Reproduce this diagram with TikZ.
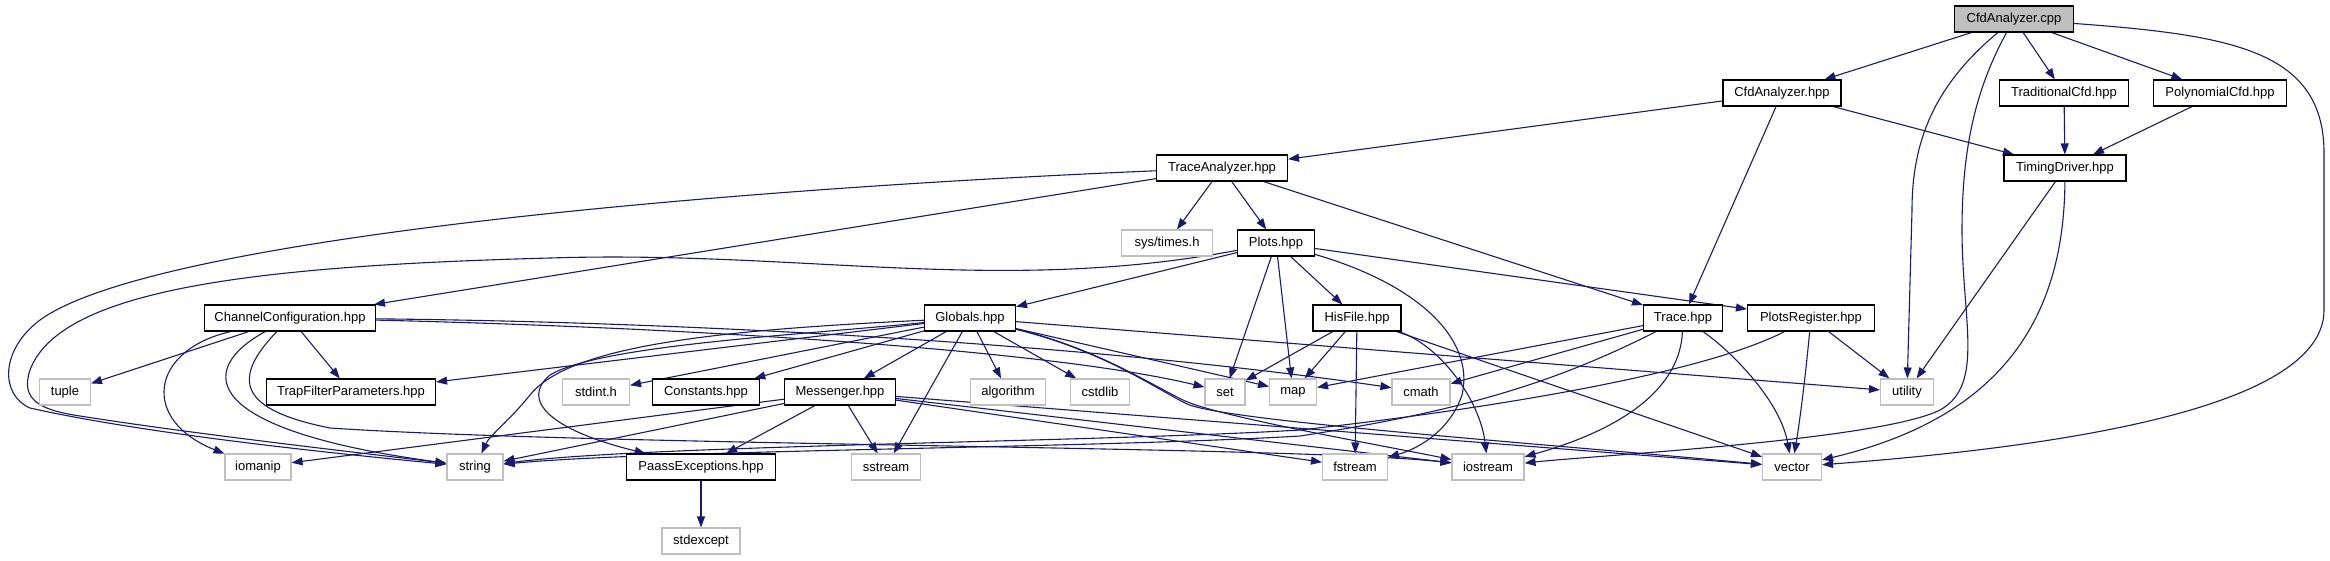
\documentclass[tikz,border=0pt]{standalone}
\usepackage{fontspec}
\setmainfont{Liberation Sans}
\usetikzlibrary{arrows.meta}
\definecolor{edgec}{HTML}{191970}
\definecolor{extc}{HTML}{BFBFBF}
\definecolor{cppfill}{HTML}{BFBFBF}
\pgfdeclarelayer{bg}
\pgfsetlayers{bg,main}
\tikzset{
  docbox/.style={draw=black, line width=1.1pt, fill=white, minimum height=26pt, inner sep=0pt, font=\fontsize{13}{15}\selectfont},
  extbox/.style={draw=extc, line width=1.1pt, fill=white, minimum height=26pt, inner sep=0pt, font=\fontsize{13}{15}\selectfont},
  cppbox/.style={docbox, fill=cppfill},
  dep/.style={draw=edgec, line width=1.1pt, -{Triangle[length=11pt,width=8pt]}}
}
\begin{document}
\begin{tikzpicture}[x=1pt,y=-1pt]
\useasboundingbox (0,0) rectangle (2330,560);
% row 1
\node[cppbox, minimum width=119] (cpp) at (2014,19) {CfdAnalyzer.cpp};
% row 2
\node[docbox, minimum width=118] (cah) at (1782,93) {CfdAnalyzer.hpp};
\node[docbox, minimum width=129] (trad) at (2064,93) {TraditionalCfd.hpp};
\node[docbox, minimum width=133] (poly) at (2220,93) {PolynomialCfd.hpp};
% row 3
\node[docbox, minimum width=131] (tra) at (1222,168) {TraceAnalyzer.hpp};
\node[docbox, minimum width=122] (tim) at (2065,168) {TimingDriver.hpp};
% row 4
\node[extbox, minimum width=91] (sys) at (1167,243) {sys/times.h};
\node[docbox, minimum width=77] (plots) at (1276,243) {Plots.hpp};
% row 5
\node[docbox, minimum width=171] (chan) at (290,318) {ChannelConfiguration.hpp};
\node[docbox, minimum width=91] (glob) at (970,318) {Globals.hpp};
\node[docbox, minimum width=88] (his) at (1357,318) {HisFile.hpp};
\node[docbox, minimum width=79] (trace) at (1683,318) {Trace.hpp};
\node[docbox, minimum width=127] (preg) at (1811,318) {PlotsRegister.hpp};
% row 6
\node[extbox, minimum width=51] (tuple) at (65,392) {tuple};
\node[docbox, minimum width=169] (trap) at (351,392) {TrapFilterParameters.hpp};
\node[extbox, minimum width=67] (stdint) at (596,392) {stdint.h};
\node[docbox, minimum width=107] (const) at (706,392) {Constants.hpp};
\node[docbox, minimum width=111] (mess) at (840,392) {Messenger.hpp};
\node[extbox, minimum width=75] (algo) at (1008,392) {algorithm};
\node[extbox, minimum width=59] (cstd) at (1100,392) {cstdlib};
\node[extbox, minimum width=40] (set) at (1225,392) {set};
\node[extbox, minimum width=47] (map) at (1293,392) {map};
\node[extbox, minimum width=58] (cmath) at (1421,392) {cmath};
\node[extbox, minimum width=53] (util) at (1907,392) {utility};
% row 7
\node[extbox, minimum width=66] (ioman) at (258,467) {iomanip};
\node[extbox, minimum width=56] (string) at (475,467) {string};
\node[docbox, minimum width=149] (paass) at (701,467) {PaassExceptions.hpp};
\node[extbox, minimum width=69] (sstr) at (886,467) {sstream};
\node[extbox, minimum width=65] (fstr) at (1355,467) {fstream};
\node[extbox, minimum width=72] (iostr) at (1488,467) {iostream};
\node[extbox, minimum width=59] (vector) at (1792,467) {vector};
% row 8
\node[extbox, minimum width=78] (stdexc) at (701,541) {stdexcept};

\begin{pgfonlayer}{bg}
% CfdAnalyzer.cpp
\draw[dep] (cpp) -- (cah);
\draw[dep] (cpp) -- (trad);
\draw[dep] (cpp) -- (poly);
\draw[dep] (cpp) .. controls (1935,85) and (1912,140) .. (1912,210) -- (util);
\draw[dep] (cpp) .. controls (1975,90) and (1962,150) .. (1962,230) .. controls (1962,320) and (1985,385) .. (1940,410) .. controls (1880,440) and (1600,455) .. (iostr);
\draw[dep] (cpp) .. controls (2230,35) and (2322,50) .. (2324,150) -- (2324,310) .. controls (2324,390) and (2150,440) .. (vector);
% CfdAnalyzer.hpp
\draw[dep] (cah) -- (tra);
\draw[dep] (cah) -- (tim);
\draw[dep] (cah) -- (trace);
\draw[dep] (trad) -- (tim);
\draw[dep] (poly) -- (tim);
% TimingDriver
\draw[dep] (tim) -- (util);
\draw[dep] (tim) .. controls (2064,330) and (1990,420) .. (vector);
% TraceAnalyzer
\draw[dep] (tra) -- (sys);
\draw[dep] (tra) -- (plots);
\draw[dep] (tra) -- (trace);
\draw[dep] (tra) -- (chan);
\draw[dep] (tra) .. controls (700,190) and (150,240) .. (40,320) .. controls (0,350) and (0,395) .. (30,408) .. controls (150,435) and (350,455) .. (string);
% Plots
\draw[dep] (plots) .. controls (1000,295) and (800,250) .. (550,258) .. controls (250,266) and (60,290) .. (30,370) .. controls (20,400) and (40,410) .. (80,416) .. controls (200,435) and (380,455) .. (string);
\draw[dep] (plots) -- (glob);
\draw[dep] (plots) -- (set);
\draw[dep] (plots) -- (map);
\draw[dep] (plots) -- (his);
\draw[dep] (plots) .. controls (1420,285) and (1475,340) .. (1462,395) .. controls (1450,430) and (1420,448) .. (fstr);
\draw[dep] (plots) -- (preg);
% ChannelConfiguration
\draw[dep] (chan) -- (tuple);
\draw[dep] (chan) -- (trap);
\draw[dep] (chan) .. controls (150,350) and (140,420) .. (ioman);
\draw[dep] (chan) .. controls (195,370) and (200,430) .. (string);
\draw[dep] (chan) .. controls (230,380) and (240,410) .. (330,428) .. controls (600,446) and (1300,446) .. (iostr);
\draw[dep] (chan) .. controls (700,328) and (1050,350) .. (set);
\draw[dep] (chan) .. controls (700,322) and (1100,345) .. (cmath);
% Globals
\draw[dep] (glob) -- (stdint);
\draw[dep] (glob) -- (const);
\draw[dep] (glob) -- (mess);
\draw[dep] (glob) -- (sstr);
\draw[dep] (glob) -- (algo);
\draw[dep] (glob) -- (cstd);
\draw[dep] (glob) -- (map);
\draw[dep] (glob) -- (util);
\draw[dep] (glob) -- (trap);
\draw[dep] (glob) .. controls (720,330) and (570,345) .. (530,395) .. controls (510,420) and (490,435) .. (string);
\draw[dep] (glob) .. controls (800,335) and (600,345) .. (550,375) .. controls (520,400) and (550,430) .. (paass);
\draw[dep] (glob) .. controls (1100,350) and (1150,385) .. (1185,403) .. controls (1215,420) and (1500,440) .. (vector);
\draw[dep] (glob) .. controls (1095,348) and (1148,383) .. (1183,400) .. controls (1215,416) and (1380,445) .. (iostr);
% Messenger
\draw[dep] (mess) -- (ioman);
\draw[dep] (mess) -- (string);
\draw[dep] (mess) -- (paass);
\draw[dep] (mess) -- (sstr);
\draw[dep] (mess) -- (fstr);
\draw[dep] (mess) -- (iostr);
\draw[dep] (mess) -- (vector);
% HisFile
\draw[dep] (his) -- (set);
\draw[dep] (his) -- (map);
\draw[dep] (his) -- (fstr);
\draw[dep] (his) .. controls (1440,345) and (1480,400) .. (iostr);
\draw[dep] (his) -- (vector);
% Trace
\draw[dep] (trace) -- (map);
\draw[dep] (trace) -- (cmath);
\draw[dep] (trace) .. controls (1560,380) and (1470,410) .. (1300,436) .. controls (1100,448) and (650,450) .. (string);
\draw[dep] (trace) .. controls (1680,390) and (1620,430) .. (iostr);
\draw[dep] (trace) .. controls (1730,350) and (1780,400) .. (vector);
% PlotsRegister
\draw[dep] (preg) .. controls (1700,375) and (1480,410) .. (1300,430) .. controls (1100,442) and (650,445) .. (string);
\draw[dep] (preg) .. controls (1805,380) and (1800,420) .. (vector);
\draw[dep] (preg) -- (util);
% PaassExceptions
\draw[dep] (paass) -- (stdexc);
\end{pgfonlayer}
\end{tikzpicture}
\end{document}
